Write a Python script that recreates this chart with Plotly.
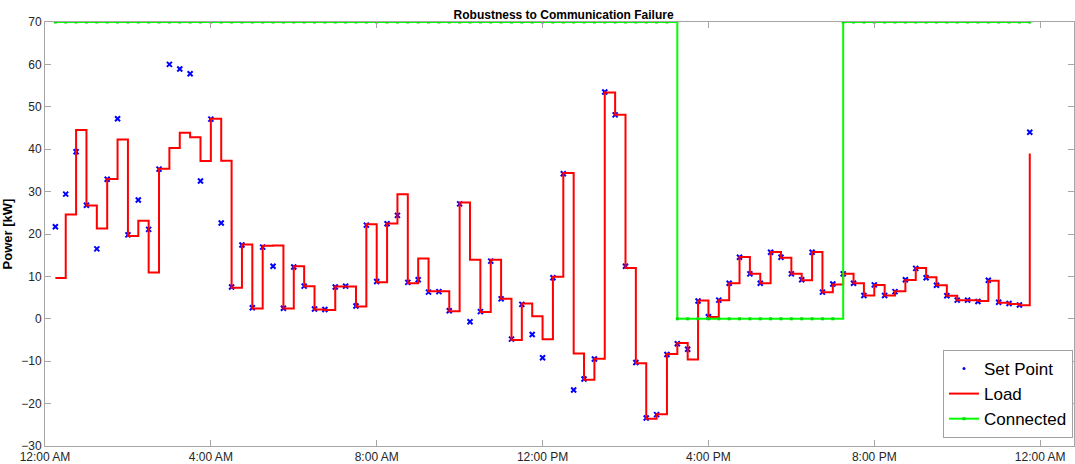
import pandas as pd
import plotly.graph_objects as go

# 15-minute control intervals over one day
times = pd.date_range("2016-01-01 00:15", periods=95, freq="15min")

set_point_kw = [
    21.7, 29.4, 39.4, 26.8, 16.5, 32.9, 47.2, 19.8, 28.0, 21.1,
    35.3, 60.0, 58.9, 57.8, 32.5, 47.1, 22.6, 7.5, 17.4, 2.6,
    16.9, 12.4, 2.5, 12.2, 7.7, 2.3, 2.2, 7.5, 7.7, 3.0,
    22.1, 8.8, 22.4, 24.4, 8.6, 9.2, 6.3, 6.4, 1.9, 27.1,
    -0.7, 1.7, 13.6, 4.7, -4.8, 3.4, -3.7, -9.2, 9.7, 34.2,
    -16.8, -14.2, -9.5, 53.5, 48.1, 12.4, -10.3, -23.4, -22.6, -8.4,
    -5.9, -7.2, 4.2, 0.5, 4.4, 8.4, 14.5, 10.6, 8.4, 15.7,
    14.5, 10.6, 9.2, 15.7, 6.3, 8.2, 10.6, 8.4, 5.5, 8.0,
    5.5, 6.4, 9.2, 11.9, 9.7, 7.9, 5.45, 4.4, 4.4, 4.1,
    9.1, 3.9, 3.6, 3.25, 44.0,
]

load_kw = [
    9.6, 24.6, 44.5, 26.7, 21.3, 33.0, 42.3, 19.5, 23.1, 10.9,
    35.4, 40.3, 43.9, 42.8, 37.2, 47.2, 37.3, 7.3, 17.5, 2.4,
    17.2, 17.3, 2.4, 12.4, 7.7, 2.2, 2.1, 7.6, 7.6, 2.9,
    22.3, 8.6, 22.5, 29.4, 8.4, 14.2, 6.5, 6.5, 1.8, 27.4,
    13.9, 1.6, 13.9, 4.7, -5.0, 3.6, 0.6, -4.8, 9.9, 34.4,
    -8.2, -14.4, -9.4, 53.4, 48.1, 12.0, -10.5, -23.6, -22.5, -8.3,
    -5.7, -9.6, 4.3, 0.4, 4.4, 8.4, 14.6, 10.6, 8.4, 15.75,
    14.4, 10.6, 9.1, 15.75, 6.25, 8.1, 10.6, 8.4, 5.5, 8.0,
    5.5, 6.5, 9.15, 12.0, 9.8, 7.9, 5.45, 4.4, 4.4, 4.2,
    9.0, 3.8, 3.5, 3.2, 39.0,
]

# communication status, drawn at 70 when connected and 0 when lost
connected_kw = [70] * 60 + [0] * 16 + [70] * 19

y_ticks = [-30, -20, -10, 0, 10, 20, 30, 40, 50, 60, 70]

FONT = "Liberation Sans, Arial, Helvetica, sans-serif"
AXIS_GRAY = "#a6a6a6"
TEXT_GRAY = "#262626"

fig = go.Figure()

fig.add_trace(go.Scatter(
    x=times, y=set_point_kw, mode="markers", name="Set Point",
    marker=dict(symbol="x-thin", size=5, color="#0000ff",
                line=dict(width=2, color="#0000ff")),
    showlegend=False,
))
# legend entry for the set points (shown as a small dot)
fig.add_trace(go.Scatter(
    x=[None], y=[None], mode="markers", name="Set Point",
    marker=dict(symbol="circle", size=3, color="#0000ff"),
))
fig.add_trace(go.Scatter(
    x=times, y=load_kw, mode="lines", name="Load",
    line=dict(color="#ff0000", width=2, shape="hv"),
))
fig.add_trace(go.Scatter(
    x=times, y=connected_kw, mode="lines+markers", name="Connected",
    line=dict(color="#00ff00", width=2, shape="hv"),
    marker=dict(symbol="square", size=3, color="#00dd00"),
))

fig.update_layout(
    width=1075, height=464,
    margin=dict(l=45, r=1, t=22, b=18),
    paper_bgcolor="white", plot_bgcolor="white",
    font=dict(family=FONT, size=12, color=TEXT_GRAY),
    title=dict(text="<b>Robustness to Communication Failure</b>",
               x=0.504, xref="paper", xanchor="center",
               y=1, yref="paper", yanchor="bottom", pad=dict(b=3),
               font=dict(family=FONT, size=12, color="#000000")),
    legend=dict(x=0.999, xanchor="right", y=0.019, yanchor="bottom",
                bgcolor="white", bordercolor="#a0a0a0", borderwidth=1,
                font=dict(family=FONT, size=17, color="#000000"),
                itemwidth=30, tracegroupgap=0),
)

fig.update_xaxes(
    type="date",
    range=["2016-01-01 00:00", "2016-01-02 00:49"],
    tick0="2016-01-01 00:00", dtick=4 * 3600 * 1000,
    tickformat="%-I:%M %p",
    showgrid=False, zeroline=False,
    showline=True, linecolor=AXIS_GRAY, linewidth=1, mirror="ticks",
    ticks="inside", ticklen=6, tickcolor=AXIS_GRAY,
    tickfont=dict(family=FONT, size=12, color=TEXT_GRAY),
)
fig.update_yaxes(
    range=[-30, 70], tickvals=y_ticks,
    showgrid=False, zeroline=False,
    showline=True, linecolor=AXIS_GRAY, linewidth=1, mirror="ticks",
    ticks="inside", ticklen=6, tickcolor=AXIS_GRAY,
    tickfont=dict(family=FONT, size=12, color=TEXT_GRAY),
    title=dict(text="<b>Power [kW]</b>", standoff=8,
               font=dict(family=FONT, size=13, color="#000000")),
)

fig.write_html("out.html")
